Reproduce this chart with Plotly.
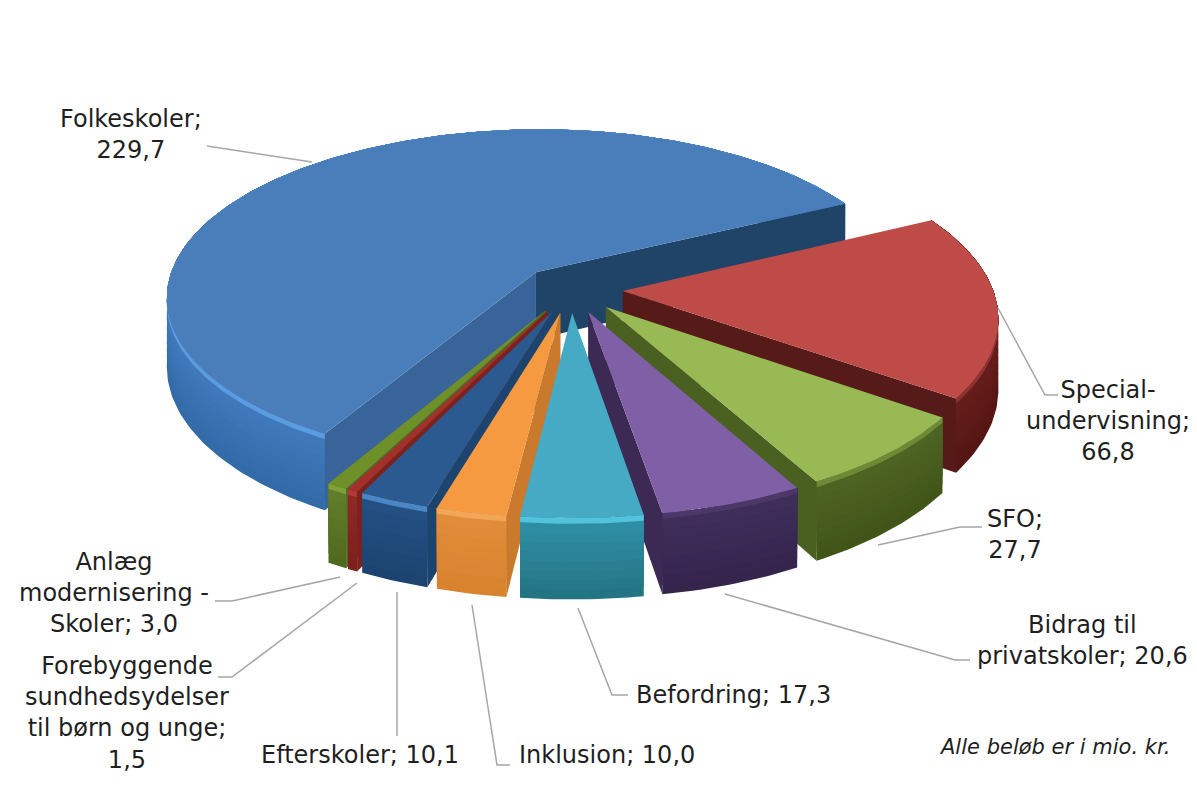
import math
import plotly.graph_objects as go

names = ["Folkeskoler", "Specialundervisning", "SFO", "Bidrag til privatskoler", "Befordring",
         "Inklusion", "Efterskoler", "Forebyggende sundhedsydelser", "Anlæg modernisering"]
values = [229.7, 66.8, 27.7, 20.6, 17.3, 10.0, 10.1, 1.5, 3.0]

top_colors = ["#4A7EBB", "#BE4B48", "#98B954", "#7F5FA5", "#46AAC4", "#F59A40", "#2B5A90", "#A52F2B", "#6F8F28"]
rim_colors = ["#5B9BE0", "#8E3331", "#6E8A36", "#4C3769", "#52C3DD", "#F2A758", "#4A85C4", "#B23A36", "#7DA038"]
wall_top = ["#4078BA", "#651D1B", "#4D6322", "#3F2D5A", "#2F8DA3", "#E08C38", "#234F82", "#8E2825", "#5F7D2A"]
wall_bottom = ["#336AA8", "#541614", "#415519", "#35254D", "#247584", "#D8842F", "#1D4470", "#7D211E", "#50691F"]
side_start = ["#38649A", "#561A18", "#4A6020", "#3C2A55", "#2F8DA3", "#C97A2C", "#1D446E", "#7D211E", "#50691F"]
side_end = ["#1F4468", "#561A18", "#4A6020", "#3C2A55", "#2F8DA3", "#C97A2C", "#1D446E", "#7D211E", "#50691F"]

label_texts = ["Folkeskoler;<br>229,7", "Special-<br>undervisning;<br>66,8", "SFO;<br>27,7",
               "Bidrag til<br>privatskoler; 20,6", "Befordring; 17,3", "Inklusion; 10,0", "Efterskoler; 10,1",
               "Forebyggende<br>sundhedsydelser<br>til børn og unge;<br>1,5",
               "Anlæg<br>modernisering -<br>Skoler; 3,0"]
label_x = [131, 1108, 1015, 1082, 733, 607, 360, 127, 114]
label_y = [134, 421, 534, 640, 695, 755, 755, 713, 593]

leaders = [
    [(207, 146), (312, 162)],
    [(998, 308), (1045, 395), (1058, 395)],
    [(878, 545), (960, 527), (982, 527)],
    [(725, 594), (955, 660), (970, 660)],
    [(578, 608), (612, 695), (628, 695)],
    [(472, 605), (497, 765), (510, 765)],
    [(397, 592), (397, 736)],
    [(357, 583), (232, 677), (218, 677)],
    [(340, 577), (232, 601), (215, 601)],
]

# perspective pie, all in pixels of the 1197x799 page
cx, cy = 571, 289
ax, ay = 370, 168
persp = 0.144
explode = 0.14
depth = 68
start_angle = 240.3


def project(u, v, z=0):
    w = 1 + persp * v
    return cx + ax * u / w, cy - ay * v / w + z * depth / w


def mix(c1, c2, t):
    a = [int(c1[i:i + 2], 16) for i in (1, 3, 5)]
    b = [int(c2[i:i + 2], 16) for i in (1, 3, 5)]
    return "rgb(%d,%d,%d)" % tuple(round(a[i] + (b[i] - a[i]) * t) for i in range(3))


fig = go.Figure()


def poly(points, color):
    xs = [p[0] for p in points] + [points[0][0]]
    ys = [p[1] for p in points] + [points[0][1]]
    fig.add_trace(go.Scatter(x=xs, y=ys, mode="lines", fill="toself", fillcolor=color,
                             line=dict(color=color, width=0), hoverinfo="skip", showlegend=False))


total = sum(values)
slices = []
a = start_angle
for i, val in enumerate(values):
    span = val / total * 360
    slices.append((i, a, a - span))
    a -= span

# back slices first
slices.sort(key=lambda s: -math.sin(math.radians((s[1] + s[2]) / 2)))

for i, a0, a1 in slices:
    mid = math.radians((a0 + a1) / 2)
    ox, oy = explode * math.cos(mid), explode * math.sin(mid)
    n = max(2, int(a0 - a1))
    arc = [(ox + math.cos(math.radians(a0 + (a1 - a0) * k / n)),
            oy + math.sin(math.radians(a0 + (a1 - a0) * k / n))) for k in range(n + 1)]

    # outer wall painted bottom up, every step reaches the top so no seams show
    steps = 8
    for b in range(steps, 0, -1):
        z1 = 0.08 + 0.92 * b / steps
        col = mix(wall_top[i], wall_bottom[i], (b - 1) / (steps - 1))
        poly([project(u, v, 0) for u, v in arc] + [project(u, v, z1) for u, v in reversed(arc)], col)
    poly([project(u, v, 0) for u, v in arc] + [project(u, v, 0.07) for u, v in reversed(arc)], rim_colors[i])

    # cut faces, only those turned to the viewer
    cam = (0, -1 / persp)
    for ang, normal, edge, col in [(a0, a0 + 90, arc[0], side_start[i]), (a1, a1 - 90, arc[-1], side_end[i])]:
        nx, ny = math.cos(math.radians(normal)), math.sin(math.radians(normal))
        if nx * (cam[0] - ox) + ny * (cam[1] - oy) > 0:
            poly([project(ox, oy), project(*edge), project(*edge, 1), project(ox, oy, 1)], col)

    poly([project(ox, oy)] + [project(u, v) for u, v in arc], top_colors[i])

for line in leaders:
    fig.add_trace(go.Scatter(x=[p[0] for p in line], y=[p[1] for p in line], mode="lines",
                             line=dict(color="#A6A6A6", width=1.5), hoverinfo="skip", showlegend=False))

for txt, x, y in zip(label_texts, label_x, label_y):
    fig.add_annotation(x=x, y=y, text=txt, showarrow=False, align="center", xanchor="center", yanchor="middle",
                       font=dict(family="DejaVu Sans", size=24, color="#1F1F1F"))

fig.add_annotation(x=1054, y=747, text="<i>Alle beløb er i mio. kr.</i>", showarrow=False,
                   font=dict(family="DejaVu Sans", size=21, color="#1F1F1F"))

# the page body has an 8px margin, so the axes start at 8 to keep page pixels
fig.update_layout(width=1189, height=791, margin=dict(l=0, r=0, t=0, b=0), paper_bgcolor="white",
                  plot_bgcolor="white", showlegend=False,
                  xaxis=dict(range=[8, 1197], visible=False, fixedrange=True),
                  yaxis=dict(range=[799, 8], visible=False, fixedrange=True))

fig.write_html("out.html")
